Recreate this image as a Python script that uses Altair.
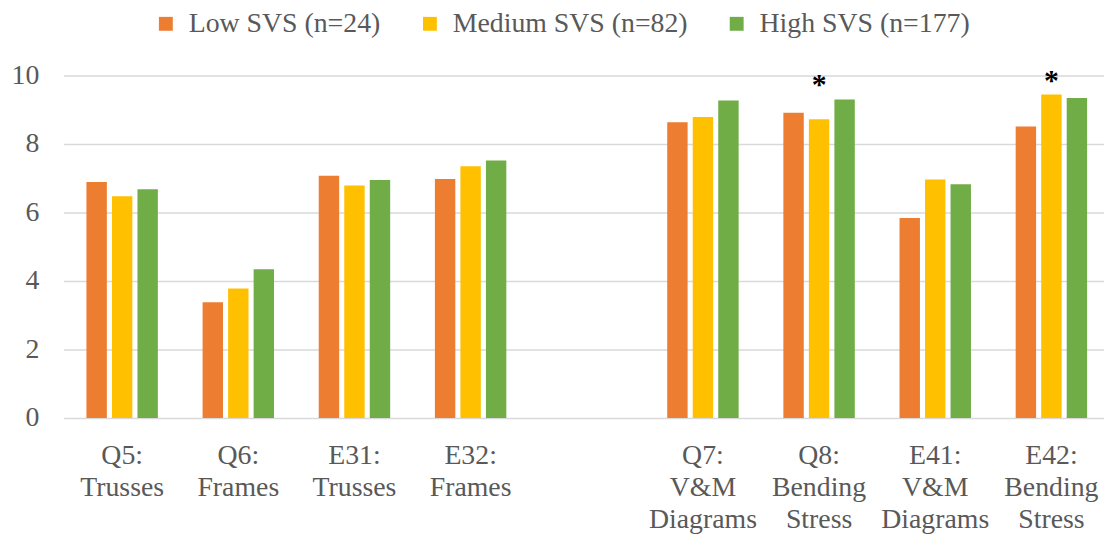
import altair as alt
import pandas as pd

categories = ["Q5:|Trusses", "Q6:|Frames", "E31:|Trusses", "E32:|Frames", " ",
              "Q7:|V&M|Diagrams", "Q8:|Bending|Stress", "E41:|V&M|Diagrams", "E42:|Bending|Stress"]
series = ["Low SVS (n=24)", "Medium SVS (n=82)", "High SVS (n=177)"]
colors = ["#ED7D31", "#FFC000", "#70AD47"]

low = [6.89, 3.38, 7.07, 6.98, None, 8.63, 8.91, 5.84, 8.51]
medium = [6.47, 3.78, 6.79, 7.35, None, 8.79, 8.72, 6.96, 9.44]
high = [6.68, 4.34, 6.95, 7.52, None, 9.27, 9.30, 6.82, 9.34]
significant = [False, False, False, False, False, False, True, False, True]

FONT = "Liberation Serif"
TEXT = "#595959"

rows = []
for s, vals in zip(series, [low, medium, high]):
    for c, v in zip(categories, vals):
        if v is not None:
            rows.append({"category": c, "series": s, "value": v})
df = pd.DataFrame(rows)

star_rows = []
for i, c in enumerate(categories):
    if significant[i]:
        top = max(low[i], medium[i], high[i])
        star_rows.append({"category": c, "series": series[1], "value": top, "mark": "*"})
stars_df = pd.DataFrame(star_rows)

x_scale = alt.Scale(domain=categories, paddingInner=0.385, paddingOuter=0.171, align=0.575)
xo_scale = alt.Scale(domain=series, paddingInner=0.2, paddingOuter=0)

x_enc = alt.X(
    "category:N",
    scale=x_scale,
    axis=alt.Axis(title=None, labelAngle=0, labelExpr="split(datum.label, '|')",
                  ticks=False, domain=False, grid=False, labelFontSize=28,
                  labelLineHeight=32, labelPadding=24, labelColor=TEXT,
                  labelFont=FONT, labelBaseline="top"),
)
y_enc = alt.Y(
    "value:Q",
    scale=alt.Scale(domain=[0, 10], nice=False),
    axis=alt.Axis(title=None, values=[0, 2, 4, 6, 8, 10], domain=False, ticks=False,
                  gridColor="#D9D9D9", gridWidth=1.5, labelFontSize=28, labelFont=FONT,
                  labelColor=TEXT, labelPadding=25),
)

bars = alt.Chart(df).mark_bar().encode(
    x=x_enc,
    xOffset=alt.XOffset("series:N", scale=xo_scale),
    y=y_enc,
    color=alt.Color(
        "series:N",
        scale=alt.Scale(domain=series, range=colors),
        legend=alt.Legend(title=None, orient="none", legendX=89, legendY=-66,
                          direction="horizontal", symbolType="square", symbolSize=196,
                          symbolStrokeWidth=0, labelFontSize=28, labelFont=FONT,
                          labelColor=TEXT, columnPadding=35, labelOffset=9,
                          labelLimit=400, padding=0),
    ),
)

stars = alt.Chart(stars_df).mark_text(
    baseline="alphabetic", dy=-5, fontSize=30, fontWeight="bold", font=FONT, color="black"
).encode(
    x=alt.X("category:N", scale=x_scale),
    xOffset=alt.XOffset("series:N", scale=xo_scale),
    y=alt.Y("value:Q"),
    text="mark:N",
)

chart = alt.layer(bars, stars).properties(
    width=1048, height=345,
    autosize=alt.AutoSizeParams(type="none"),
    padding={"left": 56, "top": 66, "right": 0, "bottom": 119},
).configure(font=FONT).configure_view(stroke=None)

chart.save("out.html", embed_options={"renderer": "svg", "actions": False})
